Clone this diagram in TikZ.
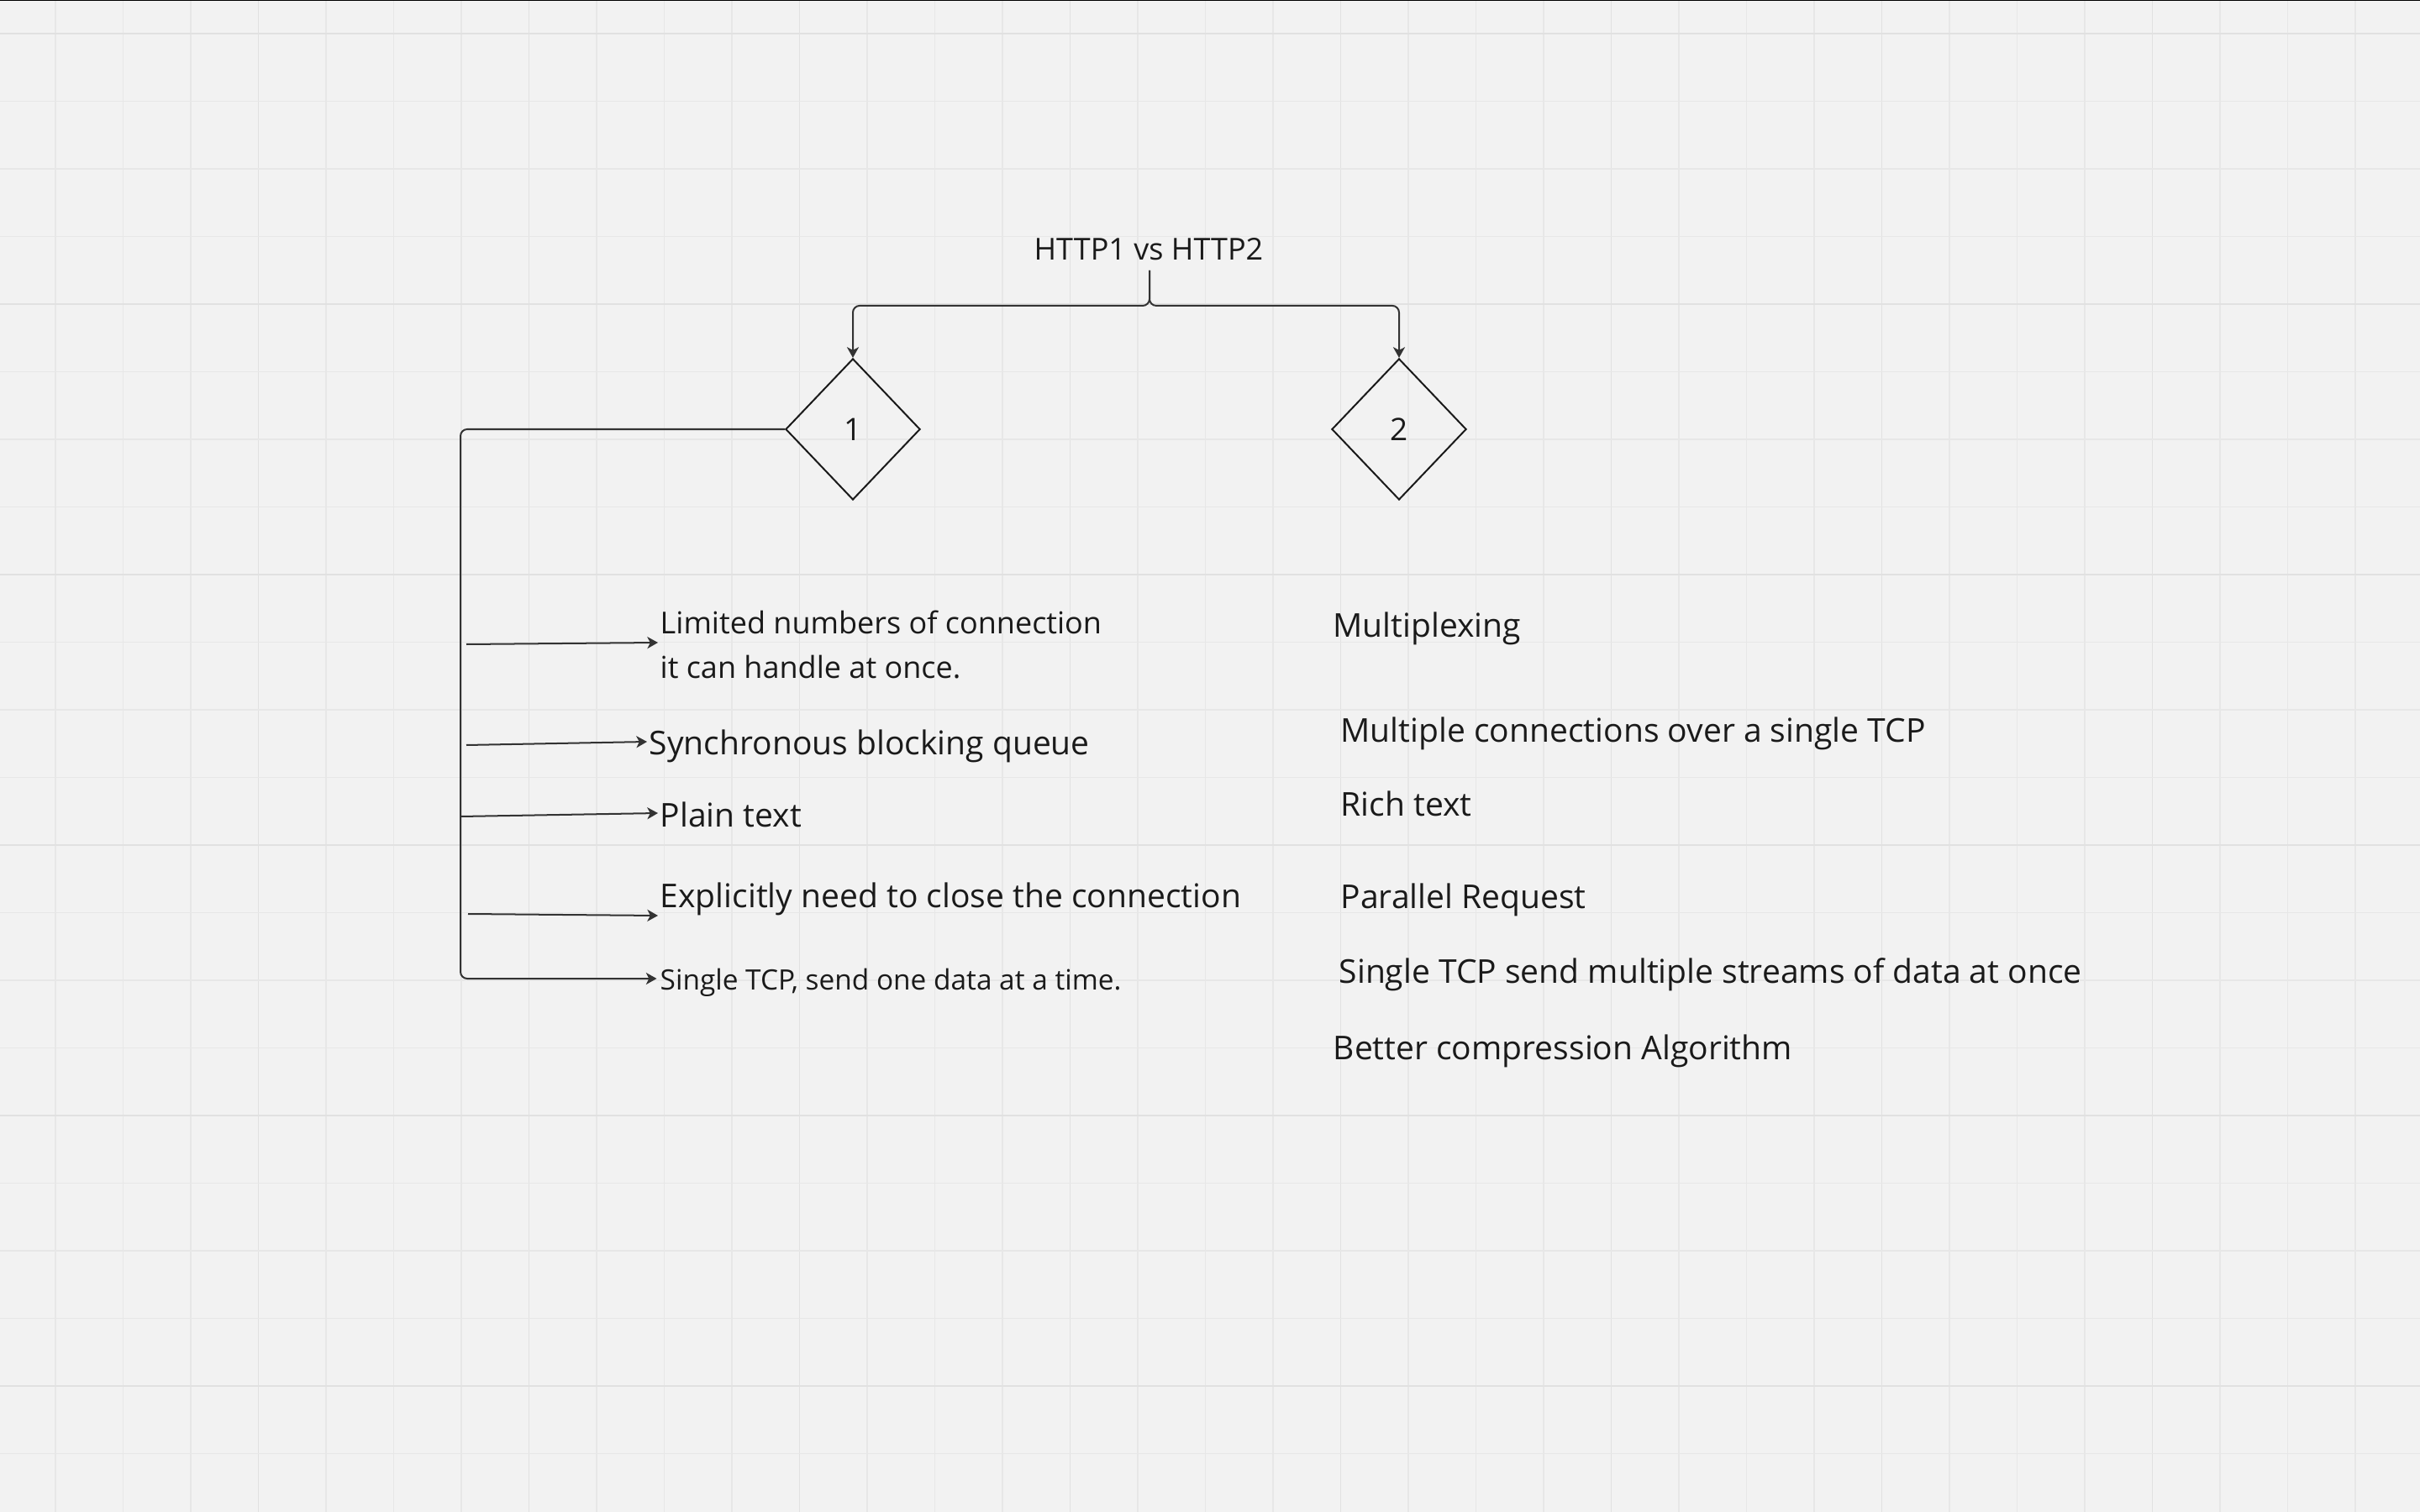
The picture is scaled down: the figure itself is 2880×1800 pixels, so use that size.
\documentclass[tikz,border=0pt]{standalone}
\usepackage{fontspec}
\setmainfont{Open Sans}
\usetikzlibrary{arrows.meta,shapes.geometric,calc}
\definecolor{bg}{HTML}{F2F2F2}
\definecolor{gridminor}{HTML}{E7E7E7}
\definecolor{gridmajor}{HTML}{E1E1E1}
\definecolor{ink}{HTML}{1A1A1A}
\definecolor{wire}{HTML}{333333}
\begin{document}
\begin{tikzpicture}[x=0.01cm,y=-0.01cm,
  conn/.style={draw=wire,line width=0.57pt,rounded corners=2.3pt},
  arr/.style={conn,-{Stealth[length=3.6pt,width=4pt,inset=1pt]}},
  txt/.style={inner sep=0pt,text=ink,anchor=base west,font=\fontsize{11.1}{13}\selectfont},
  dia/.style={diamond,draw=ink,line width=0.57pt,minimum width=1.6cm,minimum height=1.68cm,inner sep=0pt,text=ink,font=\fontsize{10.5}{12}\selectfont}]
% background and grid
\fill[bg] (0,0) rectangle (2880,1800);
\useasboundingbox (0,0) rectangle (2880,1800);
\foreach \k in {0,...,34}{
  \pgfmathsetmacro\gx{66+80.5*\k}
  \pgfmathtruncatemacro\m{mod(\k,4)}
  \ifnum\m=3
    \draw[gridmajor,line width=0.55pt] (\gx,0) -- (\gx,1800);
  \else
    \draw[gridminor,line width=0.5pt] (\gx,0) -- (\gx,1800);
  \fi
}
\foreach \k in {0,...,21}{
  \pgfmathsetmacro\gy{40+80.5*\k}
  \pgfmathtruncatemacro\m{mod(\k,4)}
  \ifnum\m=0
    \draw[gridmajor,line width=0.55pt] (0,\gy) -- (2880,\gy);
  \else
    \draw[gridminor,line width=0.5pt] (0,\gy) -- (2880,\gy);
  \fi
}
\fill[black] (0,0) rectangle (2880,1.3);

% title and decision nodes
\node[txt,anchor=base,font=\fontsize{10.24}{12}\selectfont] (title) at (1367,310) {HTTP1 vs HTTP2};
\node[dia] (d1) at (1015,511) {1};
\node[dia] (d2) at (1665,511) {2};

% HTTP1 texts
\node[txt,anchor=north west,align=left,font=\fontsize{10.24}{15.08}\selectfont] (t1) at (785,726) {Limited numbers of connection\\it can handle at once.};
\node[txt] (t2) at (772,898) {Synchronous blocking queue};
\node[txt] (t3) at (785,984) {Plain text};
\node[txt] (t4) at (785,1080) {Explicitly need to close the connection};
\node[txt,font=\fontsize{9.5}{11}\selectfont] (t5) at (785,1178) {Single TCP, send one data at a time.};

% HTTP2 texts
\node[txt] (r1) at (1586,758) {Multiplexing};
\node[txt] (r2) at (1595,883) {Multiple connections over a single TCP};
\node[txt] (r3) at (1595,971) {Rich text};
\node[txt] (r4) at (1595,1081) {Parallel Request};
\node[txt] (r5) at (1593,1170) {Single TCP send multiple streams of data at once};
\node[txt] (r6) at (1586,1261) {Better compression Algorithm};

% connectors from the title
\coordinate (split) at ($(title.base)+(1,12)$);
\draw[arr] (split) |- ($(d1.north)+(0,-62)$) -- (d1.north);
\draw[arr] (split) |- ($(d2.north)+(0,-62)$) -- (d2.north);

% bus from diamond 1
\coordinate (bus) at (548,511);
\coordinate (tip1) at ($(t1.north west)+(-2,39)$);
\coordinate (tip2) at ($(t2.base west)+(-2,-15)$);
\coordinate (tip3) at ($(t3.base west)+(-2,-16)$);
\coordinate (tip4) at ($(t4.base west)+(-2,10)$);
\coordinate (tip5) at ($(t5.base west)+(-3.5,-13)$);
\draw[arr] (d1.west) -- (bus) -- (bus |- tip5) -- (tip5);
\coordinate (a1) at (555,767);
\coordinate (a2) at (555,887);
\coordinate (a3) at (548,972);
\coordinate (a4) at (557,1088);
\draw[arr] (a1) -- (tip1);
\draw[arr] (a2) -- (tip2);
\draw[arr] (a3) -- (tip3);
\draw[arr] (a4) -- (tip4);
\end{tikzpicture}
\end{document}
